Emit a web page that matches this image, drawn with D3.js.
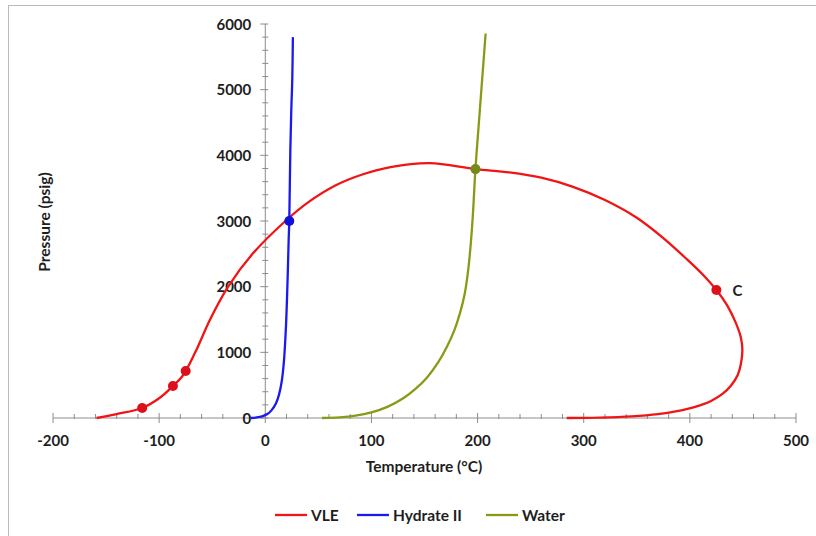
<!DOCTYPE html>
<html>
<head>
<meta charset="utf-8">
<script src="https://cdn.jsdelivr.net/npm/d3@7"></script>
<style>
  body { margin: 0; background: #fff; }
  text { font-family: Lato, "Open Sans", "DejaVu Sans", sans-serif; font-weight: bold; fill: #1e1e1e; }
</style>
</head>
<body>
<svg id="chart" width="816" height="536"></svg>
<script>
// VLE envelope (red)
var vleT = [-159, -140, -116, -100, -87, -78, -66, -52, -35, -12, 19, 40, 66, 90, 118, 155, 198, 230, 260, 290, 320, 350, 375, 397, 413, 425, 435, 443, 448, 449.5, 448, 445, 439, 431, 420, 405, 388, 370, 345, 315, 284];
var vleP = [0, 60, 152, 300, 487, 640, 1000, 1500, 2000, 2500, 3000, 3280, 3540, 3700, 3820, 3880, 3790, 3740, 3660, 3520, 3320, 3050, 2740, 2420, 2170, 1950, 1720, 1460, 1230, 1035, 820, 650, 500, 370, 260, 170, 105, 58, 24, 6, 0];

// Hydrate II curve (blue)
var hydT = [-14, -8, -3, 2, 6, 10, 13, 15.5, 17.5, 19.5, 21, 22, 22.6, 23.6, 24.5, 25.4, 26];
var hydP = [0, 8, 25, 60, 120, 220, 360, 560, 850, 1400, 2100, 2700, 3000, 4080, 4690, 5140, 5800];

// Water curve (olive)
var watT = [53.4, 70, 85, 100, 115, 130, 142, 153, 163, 171, 178, 183.5, 188, 191.5, 195, 198, 202, 207.6];
var watP = [0, 10, 35, 85, 170, 300, 450, 630, 850, 1080, 1330, 1600, 1900, 2300, 2950, 3790, 4660, 5855];

// marked points
var ptT = [-116, -87, -75, 425, 22.6, 198];
var ptP = [152, 487, 715, 1950, 3000, 3790];
var ptS = ["VLE", "VLE", "VLE", "VLE", "Hydrate II", "Water"];

var seriesNames = ["VLE", "Hydrate II", "Water"];
var seriesColors = ["#f01414", "#1a1af0", "#8a9a16"];
var pointColors = ["#dc1018", "#1010dc", "#76881a"];

var xTicks = [-200, -100, 0, 100, 200, 300, 400, 500];
var yTicks = [0, 1000, 2000, 3000, 4000, 5000, 6000];

var svg = d3.select("#chart");

// outer frame (right/bottom fall outside the picture)
svg.append("rect")
  .attr("x", 8.5).attr("y", 5.5)
  .attr("width", 830).attr("height", 560)
  .attr("fill", "none").attr("stroke", "#bbb");

var x = d3.scaleLinear().domain([-200, 500]).range([53, 796]);
var y = d3.scaleLinear().domain([0, 6000]).range([418, 24]);

var axisColor = "#8c8c8c";

// x axis line at P=0
var gx = svg.append("g");
gx.append("line")
  .attr("x1", x(-200)).attr("x2", x(500))
  .attr("y1", y(0)).attr("y2", y(0))
  .attr("stroke", axisColor);
gx.selectAll("line.minor")
  .data(d3.range(-200, 501, 20))
  .enter().append("line")
  .attr("class", "minor")
  .attr("x1", function(d) { return x(d); }).attr("x2", function(d) { return x(d); })
  .attr("y1", function(d) { return d % 100 === 0 ? y(0) - 5 : y(0) - 4; })
  .attr("y2", function(d) { return d % 100 === 0 ? y(0) + 5 : y(0) + 1; })
  .attr("stroke", axisColor);
gx.selectAll("text")
  .data(xTicks)
  .enter().append("text")
  .attr("x", function(d) { return x(d); })
  .attr("y", y(0) + 28)
  .attr("text-anchor", "middle")
  .attr("font-size", "15px")
  .text(function(d) { return d; });

// y axis line at T=0
var gy = svg.append("g");
gy.append("line")
  .attr("x1", x(0)).attr("x2", x(0))
  .attr("y1", y(0)).attr("y2", y(6000))
  .attr("stroke", axisColor);
gy.selectAll("line.minor")
  .data(d3.range(0, 6001, 200))
  .enter().append("line")
  .attr("class", "minor")
  .attr("y1", function(d) { return y(d); }).attr("y2", function(d) { return y(d); })
  .attr("x1", function(d) { return d % 1000 === 0 ? x(0) - 5 : x(0) - 3; })
  .attr("x2", function(d) { return x(0) + 3; })
  .attr("stroke", axisColor);
gy.selectAll("text")
  .data(yTicks)
  .enter().append("text")
  .attr("x", x(0) - 14)
  .attr("y", function(d) { return y(d) + 5.5; })
  .attr("text-anchor", "end")
  .attr("font-size", "15px")
  .text(function(d) { return d; });

// axis titles
svg.append("text")
  .attr("x", 424).attr("y", 472)
  .attr("text-anchor", "middle")
  .attr("font-size", "15.5px")
  .text("Temperature (°C)");
svg.append("text")
  .attr("transform", "translate(50,222) rotate(-90)")
  .attr("text-anchor", "middle")
  .attr("font-size", "15.5px")
  .text("Pressure (psig)");

// curves
var line = d3.line()
  .x(function(d) { return x(d[0]); })
  .y(function(d) { return y(d[1]); })
  .curve(d3.curveCatmullRom.alpha(0.5));

var curves = [d3.zip(vleT, vleP), d3.zip(hydT, hydP), d3.zip(watT, watP)];

svg.selectAll("path.series")
  .data(curves)
  .enter().append("path")
  .attr("class", "series")
  .attr("d", line)
  .attr("fill", "none")
  .attr("stroke", function(d, i) { return seriesColors[i]; })
  .attr("stroke-width", 2.3);

// points
svg.selectAll("circle.pt")
  .data(d3.range(ptT.length))
  .enter().append("circle")
  .attr("class", "pt")
  .attr("cx", function(i) { return x(ptT[i]); })
  .attr("cy", function(i) { return y(ptP[i]); })
  .attr("r", 5)
  .attr("fill", function(i) { return pointColors[seriesNames.indexOf(ptS[i])]; });

svg.append("text")
  .attr("x", x(425) + 16).attr("y", y(1950) + 6)
  .attr("font-size", "15px")
  .text("C");

// legend
var legX = [275, 357, 486];
var leg = svg.selectAll("g.leg")
  .data(seriesNames)
  .enter().append("g")
  .attr("class", "leg")
  .attr("transform", function(d, i) { return "translate(" + legX[i] + ",515)"; });
leg.append("line")
  .attr("x1", 0).attr("x2", 32)
  .attr("stroke", function(d, i) { return seriesColors[i]; })
  .attr("stroke-width", 2.3);
leg.append("text")
  .attr("x", 36).attr("y", 5.5)
  .attr("font-size", "15.5px")
  .text(function(d) { return d; });
</script>
</body>
</html>
